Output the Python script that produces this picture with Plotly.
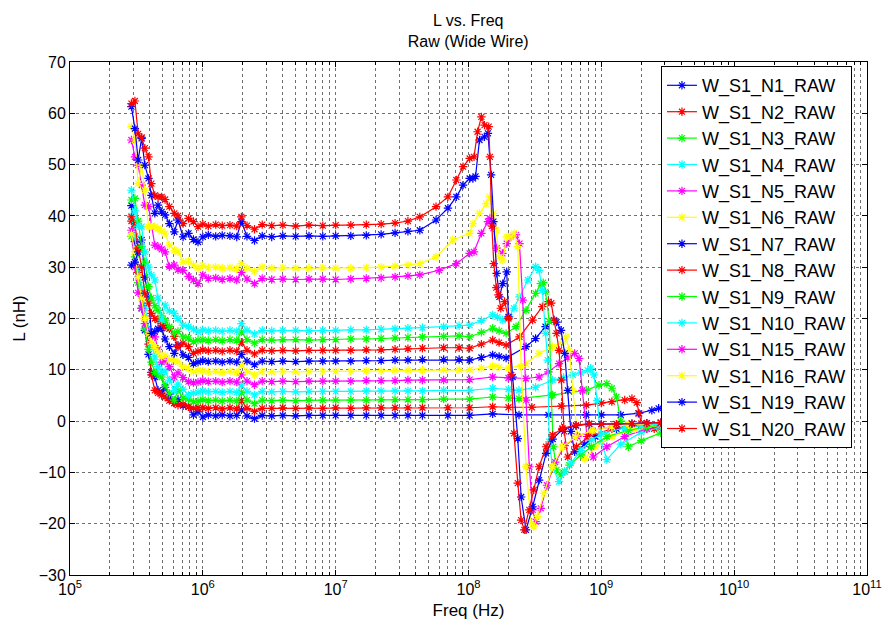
import plotly.graph_objects as go

# Shared low/mid-frequency sweep points (Hz)
FREQ_LOW = [2.9e5, 3.08e5, 3.26e5, 3.46e5, 3.66e5, 3.9e5, 4.1e5, 4.35e5, 4.6e5, 4.9e5,
            5.2e5, 5.6e5, 6.1e5, 6.5e5, 7.1e5, 7.8e5, 8.5e5, 9.2e5, 1.0e6, 1.1e6,
            1.25e6, 1.4e6, 1.6e6, 1.8e6, 1.95e6, 2.15e6, 2.45e6, 2.8e6, 3.3e6, 4.0e6,
            5.0e6, 6.3e6, 8.0e6, 1.0e7, 1.3e7, 1.7e7, 2.2e7, 2.8e7, 3.5e7]

NAMES = ["W_S1_N1_RAW", "W_S1_N2_RAW", "W_S1_N3_RAW", "W_S1_N4_RAW", "W_S1_N5_RAW",
         "W_S1_N6_RAW", "W_S1_N7_RAW", "W_S1_N8_RAW", "W_S1_N9_RAW", "W_S1_N10_RAW",
         "W_S1_N15_RAW", "W_S1_N16_RAW", "W_S1_N19_RAW", "W_S1_N20_RAW"]

COLORS = ["#0000ff", "#ff0000", "#00ff00", "#00ffff", "#ff00ff", "#ffff00", "#0000ff",
          "#ff0000", "#00ff00", "#00ffff", "#ff00ff", "#ffff00", "#0000ff", "#ff0000"]

# Inductance (nH) on FREQ_LOW, one list per structure
L_LOW = {
    "W_S1_N1_RAW": [42.0, 35.0, 28.0, 22.0, 17.7, 13.0, 9.5, 8.6, 6.0, 5.4, 6.6, 4.7, 3.5, 4.2, 3.0,
                    2.8, 1.2, 1.8, 0.8, 1.2, 1.0, 1.2, 1.0, 1.1, 2.2, 1.0, 0.5, 1.1, 1.0, 1.1,
                    1.0, 1.1, 1.1, 1.1, 1.1, 1.1, 1.1, 1.1, 1.1],
    "W_S1_N2_RAW": [39.0, 36.0, 29.0, 25.0, 20.0, 15.0, 9.0, 6.0, 5.5, 5.0, 4.7, 4.0, 3.5, 3.1, 3.3,
                    2.8, 2.5, 2.6, 2.6, 2.5, 2.6, 2.4, 2.6, 2.4, 4.0, 2.5, 1.9, 2.5, 2.5, 2.6,
                    2.5, 2.6, 2.5, 2.6, 2.5, 2.6, 2.6, 2.6, 2.6],
    "W_S1_N3_RAW": [36.0, 32.0, 27.0, 22.0, 18.0, 14.0, 11.5, 9.5, 9.0, 8.6, 7.0, 5.4, 4.1, 6.0, 4.5,
                    4.3, 3.8, 3.9, 4.2, 4.0, 4.1, 3.9, 4.1, 3.9, 5.6, 4.1, 3.4, 4.1, 4.0, 4.1,
                    4.0, 4.1, 4.1, 4.1, 4.1, 4.1, 4.2, 4.2, 4.2],
    "W_S1_N4_RAW": [40.0, 36.0, 30.0, 26.0, 22.0, 18.0, 15.0, 12.5, 10.6, 9.5, 9.8, 8.0, 6.0, 7.2, 6.2,
                    5.1, 5.5, 5.6, 5.9, 5.7, 5.8, 5.6, 5.8, 5.6, 7.0, 5.8, 5.1, 5.8, 5.7, 5.8,
                    5.7, 5.8, 5.8, 5.8, 5.8, 5.9, 5.9, 5.9, 5.9],
    "W_S1_N5_RAW": [37.2, 30.0, 25.0, 22.0, 19.0, 17.5, 16.4, 16.4, 14.0, 11.5, 12.0, 10.6, 8.6, 9.4, 8.5,
                    7.7, 7.5, 7.6, 7.9, 7.7, 7.8, 7.6, 7.8, 7.6, 9.0, 7.8, 7.1, 7.8, 7.7, 7.8,
                    7.7, 7.8, 7.8, 7.8, 7.8, 7.9, 7.9, 7.9, 8.0],
    "W_S1_N6_RAW": [36.5, 33.0, 28.0, 24.0, 20.0, 17.0, 15.5, 14.5, 13.5, 12.5, 12.8, 12.0, 11.9, 11.5, 10.6,
                    10.3, 9.6, 9.9, 9.8, 9.6, 9.7, 9.5, 9.7, 9.5, 11.0, 9.7, 9.0, 9.7, 9.6, 9.7,
                    9.6, 9.7, 9.7, 9.7, 9.7, 9.8, 9.8, 9.9, 9.9],
    "W_S1_N7_RAW": [30.4, 31.0, 33.0, 35.3, 28.0, 24.2, 17.1, 17.5, 18.0, 18.1, 16.0, 14.5, 13.2, 14.8, 12.9,
                    12.4, 11.2, 11.5, 11.8, 11.6, 11.7, 11.5, 11.7, 11.5, 13.0, 11.7, 11.0, 11.7, 11.6, 11.7,
                    11.6, 11.7, 11.7, 11.7, 11.7, 11.8, 11.8, 11.9, 11.9],
    "W_S1_N8_RAW": [39.8, 38.5, 33.7, 30.0, 24.9, 23.0, 21.0, 20.0, 19.7, 19.0, 18.4, 18.0, 16.5, 14.5, 15.2,
                    14.5, 13.2, 13.6, 13.9, 13.7, 13.8, 13.6, 13.8, 13.6, 15.4, 13.8, 13.1, 13.8, 13.7, 13.8,
                    13.7, 13.8, 13.8, 13.8, 13.8, 13.9, 13.9, 14.0, 14.1],
    "W_S1_N9_RAW": [43.1, 43.4, 39.0, 34.0, 31.0, 26.2, 24.0, 22.5, 21.6, 20.5, 19.7, 18.4, 17.1, 17.5, 16.4,
                    16.2, 15.5, 15.8, 15.9, 15.7, 15.9, 15.7, 15.9, 15.7, 17.4, 15.9, 15.2, 15.9, 15.8, 15.9,
                    15.9, 15.8, 15.9, 15.9, 16.0, 16.0, 16.1, 16.2, 16.3],
    "W_S1_N10_RAW": [45.0, 41.0, 38.0, 37.9, 33.0, 30.0, 28.5, 27.5, 24.0, 19.7, 22.6, 21.5, 21.0, 20.0, 18.7,
                     18.4, 17.9, 17.4, 17.8, 17.6, 17.7, 17.5, 17.7, 17.5, 19.0, 17.7, 17.0, 17.7, 17.6, 17.7,
                     17.7, 17.6, 17.7, 17.7, 17.8, 17.8, 17.9, 18.0, 18.1],
    "W_S1_N15_RAW": [54.8, 51.5, 49.9, 46.0, 42.1, 41.8, 37.9, 34.3, 34.0, 33.5, 33.0, 30.1, 30.4, 29.5, 29.4,
                     28.2, 27.5, 26.8, 28.5, 27.8, 27.9, 27.6, 27.8, 27.5, 29.0, 27.7, 26.8, 27.8, 27.6, 27.7,
                     27.6, 27.7, 27.7, 27.6, 27.7, 27.8, 27.9, 28.1, 28.3],
    "W_S1_N16_RAW": [57.4, 54.8, 46.3, 49.9, 45.0, 37.9, 37.9, 37.9, 37.5, 37.0, 36.6, 34.3, 33.3, 33.0, 31.0,
                     31.2, 30.4, 29.8, 30.3, 29.9, 30.0, 29.8, 29.9, 29.7, 30.7, 29.8, 29.2, 30.0, 29.8, 29.9,
                     29.8, 29.8, 29.9, 29.8, 29.8, 29.9, 30.0, 30.2, 30.4],
    "W_S1_N19_RAW": [61.3, 57.0, 50.9, 55.1, 49.9, 47.3, 44.0, 40.5, 42.1, 40.8, 40.2, 38.5, 36.9, 39.2, 35.9,
                     36.6, 35.4, 34.9, 35.9, 36.3, 36.0, 36.2, 36.1, 35.9, 38.9, 36.0, 35.2, 36.1, 35.9, 36.1,
                     36.0, 36.1, 36.0, 36.1, 36.1, 36.2, 36.4, 36.7, 37.0],
    "W_S1_N20_RAW": [61.9, 62.4, 56.0, 55.3, 53.2, 51.5, 46.3, 44.0, 43.7, 43.7, 43.2, 41.8, 40.5, 40.0, 38.5,
                     39.5, 38.9, 37.9, 38.4, 38.0, 38.3, 38.1, 38.2, 38.0, 39.8, 38.1, 37.4, 38.3, 38.1, 38.2,
                     38.0, 38.2, 38.1, 38.2, 38.2, 38.3, 38.4, 38.6, 39.0],
}

# Self-resonance region: (frequencies in Hz, inductance in nH) per structure
F_HIGH = {
    "W_S1_N1_RAW": [4.5e7, 7.0e7, 1.02e8, 1.52e8, 2.4e8, 4.0e8, 7.7e8, 1.0e9, 1.4e9, 1.9e9, 2.4e9, 2.7e9, 3.0e9],
    "W_S1_N2_RAW": [4.5e7, 7.0e7, 1.02e8, 1.52e8, 2.0e8, 3.0e8, 5.0e8, 7.7e8, 1.0e9, 1.2e9, 1.5e9, 1.7e9,
                    1.85e9, 1.93e9, 2.0e9, 2.2e9, 2.5e9, 2.8e9],
    "W_S1_N3_RAW": [4.5e7, 6.5e7, 1.02e8, 1.52e8, 2.0e8, 2.4e8, 4.3e8, 7.7e8, 9.6e8, 1.1e9, 1.2e9, 1.3e9,
                    1.4e9, 1.6e9, 2.0e9, 2.8e9],
    "W_S1_N4_RAW": [4.5e7, 6.5e7, 1.02e8, 1.52e8, 2.0e8, 2.4e8, 3.2e8, 4.3e8, 5.2e8, 6.1e8, 7.0e8, 7.9e8,
                    8.3e8, 8.8e8, 9.3e8, 1.0e9, 1.1e9, 1.4e9, 2.0e9, 2.8e9],
    "W_S1_N5_RAW": [4.5e7, 6.5e7, 1.02e8, 1.52e8, 2.0e8, 2.7e8, 3.4e8, 4.0e8, 4.8e8, 5.6e8, 6.3e8, 6.8e8,
                    7.2e8, 7.8e8, 8.7e8, 1.1e9, 1.5e9, 2.2e9, 2.8e9],
    "W_S1_N6_RAW": [4.5e7, 6.5e7, 8.5e7, 1.02e8, 1.25e8, 1.52e8, 1.7e8, 2.0e8, 2.7e8, 3.4e8, 4.3e8, 5.1e8,
                    5.4e8, 5.75e8, 6.1e8, 6.6e8, 7.5e8, 9.0e8, 1.2e9, 1.8e9, 2.8e9],
    "W_S1_N7_RAW": [4.5e7, 6.5e7, 8.5e7, 1.02e8, 1.25e8, 1.52e8, 1.7e8, 1.92e8, 2.71e8, 3.2e8, 3.8e8, 4.4e8,
                    4.6e8, 4.97e8, 5.3e8, 5.6e8, 5.9e8, 6.3e8, 7.5e8, 9.0e8, 1.3e9, 2.0e9, 2.8e9],
    "W_S1_N8_RAW": [4.5e7, 6.5e7, 8.5e7, 1.02e8, 1.25e8, 1.52e8, 1.7e8, 1.92e8, 2.42e8, 3.04e8, 3.6e8, 4.0e8,
                    4.2e8, 4.4e8, 4.6e8, 4.8e8, 5.0e8, 5.25e8, 5.6e8, 6.5e8, 8.0e8, 1.2e9, 2.0e9, 2.8e9],
    "W_S1_N9_RAW": [4.5e7, 6.5e7, 8.5e7, 1.02e8, 1.25e8, 1.52e8, 1.7e8, 1.92e8, 2.28e8, 2.71e8, 3.2e8, 3.5e8,
                    3.65e8, 3.8e8, 4.06e8, 4.2e8, 4.35e8, 4.6e8, 4.97e8, 5.3e8, 5.75e8, 7.0e8, 8.4e8, 1.1e9,
                    1.6e9, 2.2e9, 2.8e9],
    "W_S1_N10_RAW": [4.5e7, 6.5e7, 8.5e7, 1.02e8, 1.25e8, 1.52e8, 1.65e8, 1.81e8, 2.03e8, 2.2e8, 2.42e8, 2.8e8,
                     3.2e8, 3.4e8, 3.6e8, 3.8e8, 3.95e8, 4.05e8, 4.3e8, 4.8e8, 5.3e8, 5.9e8, 7.0e8, 8.4e8,
                     1.0e9, 1.5e9, 2.0e9, 2.8e9],
    "W_S1_N15_RAW": [4.3e7, 6.0e7, 8.1e7, 1.02e8, 1.1e8, 1.25e8, 1.4e8, 1.45e8, 1.54e8, 1.63e8, 1.8e8, 1.94e8,
                     2.09e8, 2.28e8, 2.42e8, 2.56e8, 2.71e8, 2.87e8, 3.04e8, 3.2e8, 3.5e8, 3.9e8, 4.5e8, 5.3e8,
                     6.6e8, 8.6e8, 1.2e9, 1.6e9, 2.2e9, 2.8e9],
    "W_S1_N16_RAW": [4.3e7, 5.7e7, 7.6e7, 1.02e8, 1.08e8, 1.21e8, 1.36e8, 1.44e8, 1.54e8, 1.61e8, 1.71e8, 1.81e8,
                     1.94e8, 2.09e8, 2.2e8, 2.35e8, 2.49e8, 2.71e8, 2.96e8, 3.1e8, 3.3e8, 3.7e8, 4.3e8, 5.1e8,
                     6.4e8, 8.6e8, 1.2e9, 1.6e9, 2.2e9, 2.8e9],
    "W_S1_N19_RAW": [4.3e7, 5.7e7, 7.0e7, 8.1e7, 9.1e7, 1.02e8, 1.08e8, 1.13e8, 1.21e8, 1.32e8, 1.4e8, 1.48e8,
                     1.54e8, 1.63e8, 1.71e8, 1.81e8, 1.94e8, 2.0e8, 2.15e8, 2.35e8, 2.49e8, 2.71e8, 3.04e8,
                     3.4e8, 3.84e8, 4.3e8, 5.1e8, 6.45e8, 8.1e8, 1.0e9, 1.3e9, 1.7e9, 2.2e9, 2.8e9],
    "W_S1_N20_RAW": [4.3e7, 5.7e7, 7.0e7, 8.1e7, 9.1e7, 1.02e8, 1.1e8, 1.17e8, 1.25e8, 1.32e8, 1.42e8, 1.45e8,
                     1.5e8, 1.55e8, 1.62e8, 1.68e8, 1.75e8, 1.87e8, 2.0e8, 2.1e8, 2.2e8, 2.35e8, 2.49e8, 2.63e8,
                     2.87e8, 3.1e8, 3.4e8, 3.84e8, 4.3e8, 5.1e8, 6.45e8, 8.1e8, 1.0e9, 1.3e9, 1.7e9, 2.2e9, 2.8e9],
}

L_HIGH = {
    "W_S1_N1_RAW": [1.1, 1.1, 1.1, 1.4, 1.2, 1.2, 1.2, 1.2, 1.2, 1.5, 2.1, 2.5, 2.7],
    "W_S1_N2_RAW": [2.6, 2.6, 2.6, 2.8, 2.7, 2.7, 2.9, 3.1, 3.5, 3.8, 4.1, 4.4, 3.6, 1.5, -0.45, -1.5, -1.5, -1.3],
    "W_S1_N3_RAW": [4.2, 4.3, 4.3, 4.7, 4.5, 4.4, 5.1, 6.0, 7.0, 7.3, 6.4, 4.7, 0.0, -5.0, -3.8, -2.3],
    "W_S1_N4_RAW": [5.9, 6.0, 6.0, 6.4, 6.2, 6.0, 6.6, 8.0, 8.5, 9.0, 9.4, 9.9, 10.3, 9.0, 4.0, -4.0,
                    -7.5, -4.5, -2.2, -1.2],
    "W_S1_N5_RAW": [8.0, 8.0, 8.1, 8.6, 8.4, 8.3, 8.6, 9.6, 11.2, 12.4, 13.2, 12.2, 6.0, -3.0, -7.0, -5.0,
                    -3.0, -1.5, -1.0],
    "W_S1_N6_RAW": [9.9, 10.0, 10.0, 10.0, 10.3, 10.7, 10.5, 10.3, 11.2, 13.2, 14.5, 15.5, 16.4, 13.8, 6.0,
                    -2.5, -7.3, -5.0, -3.0, -1.5, -0.8],
    "W_S1_N7_RAW": [12.0, 12.0, 12.0, 11.9, 12.4, 12.9, 12.6, 12.3, 14.5, 16.1, 18.4, 19.7, 19.3, 17.7, 13.2,
                    6.0, -2.0, -6.0, -4.5, -3.0, -1.5, -0.8, -0.5],
    "W_S1_N8_RAW": [14.2, 14.3, 14.3, 14.2, 15.0, 15.8, 15.3, 14.8, 16.4, 19.7, 22.3, 23.3, 23.0, 19.7, 17.1,
                    13.8, 8.0, -2.0, -7.0, -5.0, -3.0, -1.5, -0.7, -0.5],
    "W_S1_N9_RAW": [16.4, 16.5, 16.6, 16.4, 17.3, 18.1, 17.6, 17.1, 18.4, 21.6, 24.9, 26.8, 27.0, 25.2, 19.4,
                    5.0, -5.0, -9.5, -10.5, -9.8, -8.6, -6.6, -5.0, -3.0, -1.8, -1.1, -0.8],
    "W_S1_N10_RAW": [18.2, 18.4, 18.6, 18.7, 19.6, 20.7, 20.3, 19.7, 20.3, 22.0, 24.2, 27.5, 30.1, 29.4, 25.5,
                     17.1, 11.9, -4.0, -9.0, -11.8, -9.9, -8.2, -5.7, -3.7, -2.5, -1.3, -0.9, -0.6],
    "W_S1_N15_RAW": [28.5, 29.4, 30.7, 32.7, 33.0, 36.6, 38.9, 39.5, 37.6, 33.7, 32.7, 34.6, 35.9, 36.3, 34.6,
                     23.6, 4.1, -8.9, -17.3, -19.6, -17.0, -12.5, -8.0, -4.8, -3.0, -1.8, -1.1, -0.7, -0.5, -0.4],
    "W_S1_N16_RAW": [30.7, 32.0, 35.3, 36.6, 38.5, 40.5, 42.4, 43.7, 40.5, 37.2, 32.0, 31.4, 35.9, 35.9, 36.6,
                     34.0, 10.6, -8.9, -19.9, -20.6, -18.6, -14.1, -8.9, -5.0, -3.1, -1.8, -1.1, -0.7, -0.5, -0.4],
    "W_S1_N19_RAW": [37.2, 39.2, 41.5, 43.7, 46.0, 47.3, 47.3, 47.7, 54.8, 55.4, 56.1, 48.0, 38.9, 28.8, 24.2,
                     26.8, 29.1, 20.3, 8.6, -3.4, -14.8, -21.2, -16.7, -11.5, -6.3, -3.5, -1.6, -0.9, -0.6,
                     -0.6, -0.6, -0.5, -0.4, -0.3],
    "W_S1_N20_RAW": [39.8, 41.8, 43.7, 47.0, 49.6, 51.2, 51.5, 56.4, 59.3, 57.7, 57.4, 51.5, 38.0, 30.7, 26.0,
                     24.6, 22.0, 23.3, 20.0, 9.0, -2.4, -12.1, -19.3, -21.2, -17.3, -13.4, -8.9, -5.0, -2.7,
                     -1.4, -0.8, -0.5, -0.6, -0.6, -0.5, -0.4, -0.3],
}

X_TICKS = [1e5, 1e6, 1e7, 1e8, 1e9, 1e10, 1e11]
X_TICK_TEXT = ["10<sup>%d</sup>" % e for e in range(5, 12)]
Y_TICKS = list(range(-30, 71, 10))

FONT = "Liberation Sans, Arial, sans-serif"
GRID = "#707070"

fig = go.Figure()
for name, color in zip(NAMES, COLORS):
    fig.add_trace(go.Scatter(
        x=FREQ_LOW + F_HIGH[name],
        y=L_LOW[name] + L_HIGH[name],
        mode="lines+markers",
        name=name,
        line=dict(color=color, width=1.2),
        marker=dict(symbol="asterisk-open", size=7, color=color, line=dict(color=color, width=1.2)),
    ))

axis_common = dict(
    showline=True, linecolor="black", linewidth=1, mirror="ticks",
    ticks="inside", ticklen=5, tickcolor="black",
    showgrid=True, gridcolor=GRID, griddash="dot", gridwidth=1,
    zeroline=False, automargin=False,
    tickfont=dict(family=FONT, size=16, color="black"),
)

fig.update_xaxes(
    type="log", range=[5, 11],
    tickvals=X_TICKS, ticktext=X_TICK_TEXT,
    minor=dict(ticks="inside", ticklen=3, tickcolor="black", dtick="D1",
               showgrid=True, gridcolor=GRID, griddash="dot", gridwidth=1),
    title=dict(text="Freq (Hz)", font=dict(family=FONT, size=17, color="black"), standoff=6),
    **axis_common,
)
fig.update_yaxes(
    range=[-30, 70], tickvals=Y_TICKS,
    title=dict(text="L (nH)", font=dict(family=FONT, size=17, color="black"), standoff=8),
    **axis_common,
)

fig.update_layout(
    width=885, height=625,
    margin=dict(l=70, r=18, t=62, b=50, autoexpand=False),
    paper_bgcolor="white", plot_bgcolor="white",
    title=dict(text="L vs. Freq<br>Raw (Wide Wire)", x=0.529, xanchor="center",
               y=0.958, yanchor="bottom",
               font=dict(family=FONT, size=16, color="black")),
    legend=dict(x=0.7415, y=0.992, xanchor="left", yanchor="top",
                bgcolor="white", bordercolor="black", borderwidth=1,
                font=dict(family=FONT, size=18, color="black"),
                itemwidth=30, tracegroupgap=0),
    showlegend=True,
)

fig.write_html("out.html")
